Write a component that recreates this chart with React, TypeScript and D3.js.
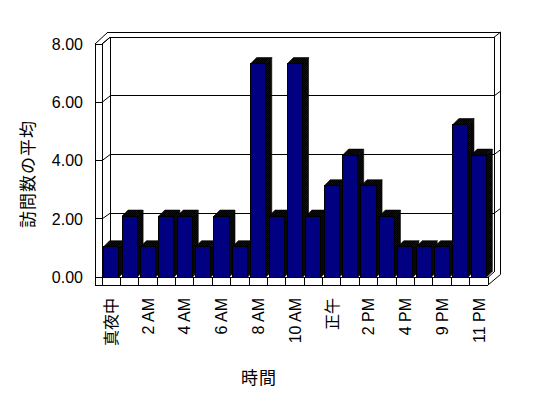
import React from 'react'
import * as d3 from 'd3'

// 時間帯ごとの訪問数の平均
const categories = [
  '真夜中', '1 AM', '2 AM', '3 AM', '4 AM', '5 AM', '6 AM', '7 AM', '8 AM', '9 AM', '10 AM',
  '11 AM', '正午', '1 PM', '2 PM', '3 PM', '4 PM', '8 PM', '9 PM', '10 PM', '11 PM',
]
const values = [
  1.05, 2.1, 1.05, 2.1, 2.1, 1.05, 2.1, 1.05, 7.33, 2.1, 7.33,
  2.1, 3.14, 4.19, 3.14, 2.1, 1.05, 1.05, 1.05, 5.24, 4.19,
]
const yTicks = [0, 2, 4, 6, 8]
const yTitle = '訪問数の平均'
const xTitle = '時間'

const W = 548
const H = 398
const FONT = '"Liberation Sans", Arial, "Noto Sans CJK JP", sans-serif'
const NAVY = '#000080'

export default function App() {
  // front plane
  const x = d3.scaleBand().domain(categories).range([102, 488]).paddingInner(0.18).paddingOuter(0.09)
  const y = d3.scaleLinear().domain([0, 8]).range([277.3, 44])
  // back wall plane
  const yBack = d3.scaleLinear().domain([0, 8]).range([272, 37.3])
  const backLeft = 110
  const backRight = 494
  const outerRight = 500.7
  const outerTop = 32
  const floorBottom = 285
  const wallLeft = 95
  const innerLeft = 102
  const floorRight = 488

  const step = x.step()
  const bw = x.bandwidth()
  const dx = 6
  const dy = -6

  const data = categories.map((c, i) => ({ c, v: values[i] }))
  const bounds = categories.map((c) => x(c)! - (step - bw) / 2).concat([floorRight])

  const line = (x1: number, y1: number, x2: number, y2: number, key?: string) => (
    <line key={key} x1={x1} y1={y1} x2={x2} y2={y2} stroke="#000" strokeWidth={1} />
  )

  return (
    <svg
      width={W}
      height={H}
      style={{ position: 'fixed', left: 0, top: 0, background: '#fff' }}
      fontFamily={FONT}
    >
      <defs>
        <pattern id="dither" width={2} height={2} patternUnits="userSpaceOnUse">
          <rect width={2} height={2} fill={NAVY} />
          <rect width={1} height={1} fill="#000" />
          <rect x={1} y={1} width={1} height={1} fill="#000" />
        </pattern>
      </defs>

      {/* walls */}
      <g shapeRendering="crispEdges">
        {line(backLeft, yBack(8), backRight, yBack(8))}
        {line(108, outerTop, outerRight, outerTop)}
        {line(backRight, yBack(8), backRight, yBack(0))}
        {line(outerRight, outerTop, outerRight, 274.3)}
        {line(backLeft, yBack(8), backLeft, yBack(0))}
        {line(wallLeft, y(8), innerLeft, y(8))}
        {line(wallLeft, y(8), wallLeft, floorBottom)}
        {line(innerLeft, y(8), innerLeft, y(0))}
        {line(wallLeft, floorBottom, floorRight, floorBottom)}
        {line(innerLeft, y(0), floorRight, y(0))}
        {line(floorRight, y(0), floorRight, floorBottom)}
        {bounds.map((b, i) => line(b, y(0), b, floorBottom, 'b' + i))}
        {yTicks.map((t) => (
          <g key={t}>
            {line(wallLeft, y(t), innerLeft, y(t))}
            {t > 0 && t < 8 && line(backLeft, yBack(t), backRight, yBack(t))}
          </g>
        ))}
      </g>
      <g>
        {line(wallLeft, y(8), 108, outerTop)}
        {line(innerLeft, y(8), backLeft, yBack(8))}
        {line(backRight, yBack(8), outerRight, outerTop)}
        {line(floorRight, floorBottom, outerRight, 274.3)}
        {line(floorRight, y(0), backRight, yBack(0))}
        {yTicks.map((t) => (
          <g key={t}>
            {line(innerLeft, y(t), backLeft, yBack(t))}
            {t > 0 && t < 8 && line(backRight, yBack(t), outerRight, yBack(t) - 5)}
          </g>
        ))}
      </g>

      {/* bars */}
      <g>
        {data.map((d) => {
          const x0 = x(d.c)!
          const x1 = x0 + bw
          const yt = y(d.v)
          const yb = y(0)
          return (
            <g key={d.c}>
              <polygon
                points={`${x1},${yt} ${x1 + dx},${yt + dy} ${x1 + dx},${yb + dy} ${x1},${yb}`}
                fill="url(#dither)"
                stroke="#000"
                strokeWidth={0.6}
              />
              <polygon
                points={`${x0},${yt} ${x0 + dx},${yt + dy} ${x1 + dx},${yt + dy} ${x1},${yt}`}
                fill="url(#dither)"
                stroke="#000"
                strokeWidth={0.6}
              />
              <rect
                x={x0}
                y={yt}
                width={bw}
                height={yb - yt}
                fill={NAVY}
                stroke="#000"
                strokeWidth={1}
                shapeRendering="crispEdges"
              />
            </g>
          )
        })}
      </g>

      {/* y axis labels */}
      {yTicks.map((t) => (
        <text key={t} x={83} y={y(t)} dy="0.36em" textAnchor="end" fontSize={16} fill="#000">
          {t.toFixed(2)}
        </text>
      ))}

      {/* x axis labels */}
      {categories.map((c, i) =>
        i % 2 === 0 ? (
          <text
            key={c}
            transform={`translate(${x(c)! + bw / 2},298) rotate(-90)`}
            textAnchor="end"
            dy="0.36em"
            fontSize={16}
            fill="#000"
          >
            {c}
          </text>
        ) : null
      )}

      <text
        transform="translate(28,174) rotate(-90)"
        textAnchor="middle"
        dy="0.36em"
        fontSize={17}
        letterSpacing={1}
        fill="#000"
      >
        {yTitle}
      </text>
      <text x={259} y={378} dy="0.36em" textAnchor="middle" fontSize={17} letterSpacing={1} fill="#000">
        {xTitle}
      </text>
    </svg>
  )
}
